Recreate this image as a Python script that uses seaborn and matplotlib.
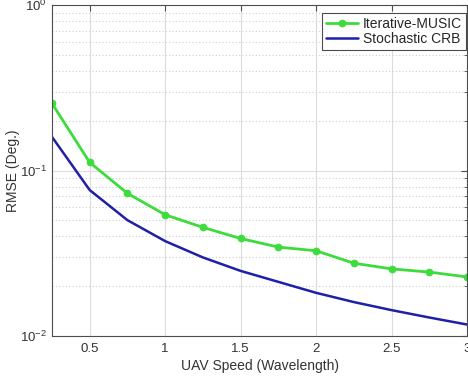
import numpy as np
import pandas as pd
import matplotlib
matplotlib.use("Agg")
import matplotlib.pyplot as plt
import seaborn as sns
from matplotlib.ticker import LogLocator, NullFormatter

speed = [0.25, 0.5, 0.75, 1.0, 1.25, 1.5, 1.75, 2.0, 2.25, 2.5, 2.75, 3.0]
music = [0.255, 0.112, 0.0728, 0.054, 0.0453, 0.0388, 0.0344, 0.0327, 0.0275, 0.0254, 0.0243, 0.0227]
crb = [0.160, 0.0762, 0.0501, 0.0374, 0.0298, 0.0247, 0.0212, 0.0182, 0.0160, 0.0143, 0.0129, 0.0117]
x_ticks = [0.5, 1, 1.5, 2, 2.5, 3]
x_tick_labels = ["0.5", "1", "1.5", "2", "2.5", "3"]

sns.set_style("white")
plt.rcParams['font.family'] = ['Liberation Sans', 'DejaVu Sans']
plt.rcParams['mathtext.fontset'] = 'custom'
plt.rcParams['mathtext.rm'] = 'Liberation Sans'

fig = plt.figure(figsize=(4.68, 3.79), dpi=100)
ax = fig.add_axes([0.111, 0.114, 0.887, 0.872])

df = pd.DataFrame({"speed": speed, "music": music, "crb": crb})
green = "#3ddc3d"
blue = "#1f1fa8"
sns.lineplot(data=df, x="speed", y="music", ax=ax, color=green, lw=2.0,
             marker="o", markersize=4.8, markeredgecolor=green, label="Iterative-MUSIC")
sns.lineplot(data=df, x="speed", y="crb", ax=ax, color=blue, lw=1.8, label="Stochastic CRB")

ax.set_yscale("log")
ax.set_xlim(0.25, 3)
ax.set_ylim(1e-2, 1e0)
ax.set_xticks(x_ticks)
ax.set_xticklabels(x_tick_labels)
ax.yaxis.set_major_locator(LogLocator(base=10))
ax.yaxis.set_minor_locator(LogLocator(base=10, subs=np.arange(2, 10)))
ax.yaxis.set_minor_formatter(NullFormatter())

ax.grid(True, which="major", axis="both", color="#dcdcdc", lw=0.8, ls="-")
ax.grid(True, which="minor", axis="y", color="#d0d0d0", lw=0.8, ls=(0, (1, 2)))
ax.set_axisbelow(True)

for s in ax.spines.values():
    s.set_color("#4d4d4d")
    s.set_linewidth(0.8)
ax.tick_params(axis="both", which="both", direction="in", colors="#4d4d4d",
               labelcolor="#333333", labelsize=9.5, top=True, right=True)
ax.tick_params(which="major", length=4)
ax.tick_params(which="minor", length=2)
ax.tick_params(axis="x", pad=5)

ax.set_xlabel("UAV Speed (Wavelength)", fontsize=10, color="#333333", labelpad=3)
ax.set_ylabel("RMSE (Deg.)", fontsize=10, color="#333333", labelpad=0)

leg = ax.legend(loc="upper right", bbox_to_anchor=(0.997, 0.978), fontsize=10,
                frameon=True, fancybox=False,
                edgecolor="#4d4d4d", framealpha=1, borderpad=0.3, labelspacing=0.1,
                handlelength=2.3, handletextpad=0.3, borderaxespad=0.0)
leg.get_frame().set_linewidth(0.8)

fig.savefig("out.png", dpi=100)
